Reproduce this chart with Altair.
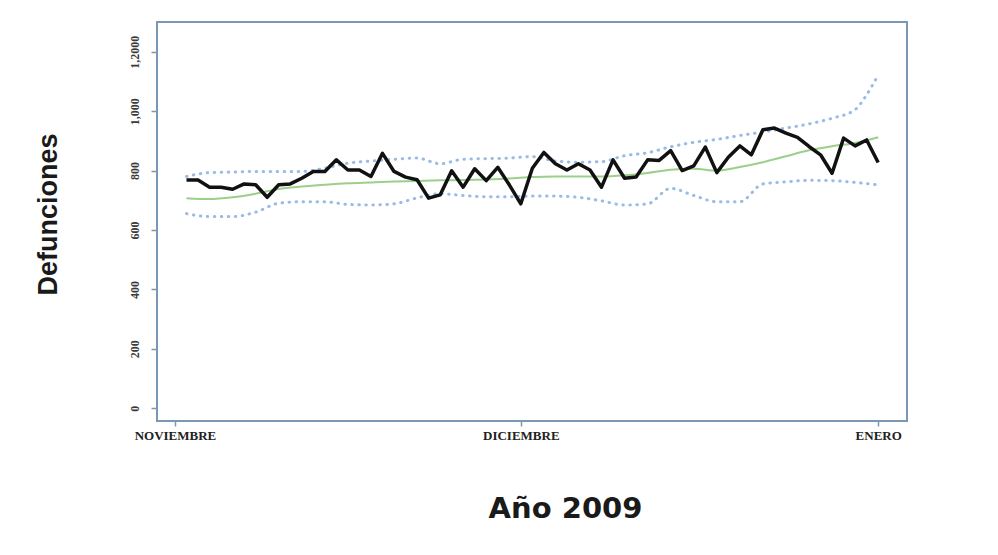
import altair as alt
import pandas as pd

# observed daily deaths (day index: 0 = 1 Nov, 30 = 1 Dec, 61 = 1 Jan)
obs_days = list(range(1, 62))
obs_vals = [768, 768, 744, 744, 737, 755, 752, 710, 752, 755,
            774, 797, 797, 836, 802, 802, 780, 858, 797, 778,
            769, 707, 718, 799, 744, 806, 766, 811, 752, 688,
            808, 861, 823, 802, 823, 802, 744, 836, 774, 778,
            836, 834, 867, 800, 816, 879, 793, 845, 883, 853,
            937, 943, 926, 912, 881, 853, 791, 909, 883, 903,
            827]

band_days = [1, 3, 5, 7, 9, 11, 13, 15, 17, 19, 21, 23, 25, 27, 29, 31,
             33, 35, 37, 39, 41, 43, 45, 47, 49, 51, 53, 55, 57, 59, 61]
expected = [707, 704, 710, 722, 738, 746, 752, 757, 760, 763, 765, 767, 768,
            770, 773, 778, 780, 780, 780, 784, 792, 803, 806, 800, 812, 828,
            848, 868, 882, 893, 912]
upper_days = [1, 3, 5, 7, 9, 11, 13, 15, 17, 19, 21, 23, 25, 27, 29, 31,
              33, 35, 37, 39, 41, 43, 45, 47, 49, 51, 53, 55, 57, 59, 60, 61]
upper = [780, 793, 795, 797, 797, 797, 808, 825, 832, 838, 842, 823, 838,
         840, 842, 847, 832, 828, 830, 850, 860, 880, 895, 905, 918, 930,
         943, 957, 976, 1005, 1055, 1122]
lower = [655, 645, 645, 660, 690, 695, 695, 686, 684, 688, 708, 722, 716,
         712, 712, 714, 714, 710, 698, 684, 688, 740, 716, 695, 695, 755,
         762, 767, 766, 760, 752]

month_ticks = [0, 30, 61]
month_names = ["NOVIEMBRE", "DICIEMBRE", "ENERO"]
y_ticks = [0, 200, 400, 600, 800, 1000, 1200]
y_tick_labels = ["0", "200", "400", "600", "800", "1,000", "1,2000"]

frame = "#7a98b5"

obs_df = pd.DataFrame({"dia": obs_days, "valor": obs_vals})
exp_df = pd.DataFrame({"dia": band_days, "valor": expected})
up_df = pd.DataFrame({"dia": upper_days, "valor": upper})
lo_df = pd.DataFrame({"dia": band_days, "valor": lower})

x_label_expr = " : ".join(
    [f"datum.value == {v} ? '{n}'" for v, n in zip(month_ticks, month_names)]
) + " : ''"
y_label_expr = " : ".join(
    [f"datum.value == {v} ? '{n}'" for v, n in zip(y_ticks, y_tick_labels)]
) + " : ''"

x_enc = alt.X(
    "dia:Q",
    scale=alt.Scale(domain=[-1.56, 63.5], nice=False, zero=False),
    axis=alt.Axis(
        values=month_ticks, labelExpr=x_label_expr, grid=False, domain=False,
        tickSize=5, tickColor=frame, tickWidth=1.5, labelPadding=3,
        labelFont="Liberation Serif", labelFontSize=13, labelFontWeight="bold",
        labelColor="#222222", labelAngle=0,
        title="Año 2009", titleFont="DejaVu Sans", titleFontSize=29,
        titleFontWeight="bold", titleColor="#1a1a1a",
        titleX=408, titleY=87, titleAlign="center", titleBaseline="middle",
    ),
)
y_enc = alt.Y(
    "valor:Q",
    scale=alt.Scale(domain=[-43, 1300], nice=False, zero=False),
    axis=alt.Axis(
        values=y_ticks, labelExpr=y_label_expr, grid=False, domain=False,
        tickSize=6, tickColor=frame, tickWidth=1.5, labelPadding=10,
        labelAngle=270, labelAlign="center", labelBaseline="bottom",
        labelFont="Liberation Serif", labelFontSize=12, labelFontWeight="bold",
        labelColor="#3a3a3a",
        title="Defunciones", titleFont="Liberation Sans", titleFontSize=27,
        titleFontWeight="bold", titleColor="#1a1a1a", titleAngle=270,
        titleX=-109, titleY=192, titleAlign="center", titleBaseline="middle",
    ),
)

blue = "#99bbe6"
up_line = alt.Chart(up_df).mark_line(
    color=blue, strokeWidth=3, strokeDash=[0.5, 6.5], strokeCap="round",
    interpolate="monotone",
).encode(x=x_enc, y=y_enc)
lo_line = alt.Chart(lo_df).mark_line(
    color=blue, strokeWidth=3, strokeDash=[0.5, 6.5], strokeCap="round",
    interpolate="monotone",
).encode(x=x_enc, y=y_enc)
exp_line = alt.Chart(exp_df).mark_line(
    color="#9ccf8a", strokeWidth=2, interpolate="monotone"
).encode(x=x_enc, y=y_enc)
obs_line = alt.Chart(obs_df).mark_line(
    color="#111111", strokeWidth=3.5, strokeJoin="round"
).encode(x=x_enc, y=y_enc)

chart = (
    alt.layer(up_line, lo_line, exp_line, obs_line)
    .properties(
        width=750, height=399,
        autosize=alt.AutoSizeParams(type="none"),
        padding={"left": 149, "top": 14, "right": 83, "bottom": 126},
        background="white",
    )
    .configure_view(stroke=frame, strokeWidth=2)
)

chart.save("out.html", embed_options={"renderer": "svg", "actions": False})
